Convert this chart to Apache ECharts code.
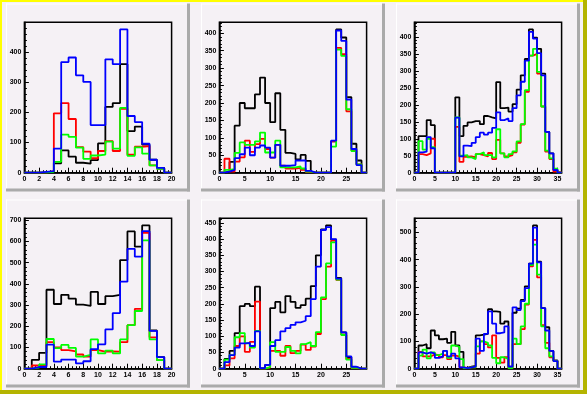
<!DOCTYPE html>
<html><head><meta charset="utf-8">
<script src="https://cdn.jsdelivr.net/npm/echarts@6/dist/echarts.min.js"></script>
<style>html,body{margin:0;padding:0;background:#f5f1f5;}#c{width:587px;height:394px;}</style>
</head><body><div id="c"></div>
<script>
// ---- data (bin contents, bins of width 1 starting at 0) ----
const p1Black = [0,0,0,3,31,74,53,33,30,42,97,218,231,360,138,153,93,43,16,0];
const p1Red   = [0,0,0,5,197,231,178,85,70,48,72,105,72,212,60,86,88,24,13,0];
const p1Green = [0,0,0,3,36,126,119,83,46,57,60,103,80,215,56,84,63,24,13,0];
const p1Blue  = [0,0,3,5,80,367,382,323,301,158,158,376,360,475,188,168,96,43,16,0];

const p2Black = [0,3,31,135,200,185,185,225,273,200,145,228,123,57,54,38,51,34,0,0,0,0,90,411,388,217,83,35,0];
const p2Red   = [0,40,3,32,44,92,60,82,97,68,43,80,20,12,12,14,8,2,0,0,0,0,90,358,340,176,64,24,0];
const p2Green = [0,8,10,57,87,80,80,90,115,58,58,92,15,15,15,18,12,3,0,0,0,0,75,353,335,182,62,24,0];
const p2Blue  = [0,3,8,42,53,72,50,72,78,72,43,80,20,20,22,35,35,5,0,0,0,0,92,408,378,210,68,22,0];

const p3Black = [0,108,108,155,140,0,0,0,0,0,222,108,138,148,152,152,143,167,163,160,267,190,192,180,202,245,287,335,422,398,365,292,120,57,8,0];
const p3Red   = [0,55,52,57,100,0,0,0,0,0,135,32,47,48,45,55,52,48,58,40,97,57,48,52,60,88,142,238,345,350,292,195,62,40,3,0];
const p3Green = [0,93,68,100,75,0,0,0,0,0,163,50,52,45,40,55,60,52,52,45,128,57,45,55,63,92,143,243,345,365,297,195,65,42,12,0];
const p3Blue  = [0,60,62,105,72,0,0,0,0,0,162,48,80,78,88,105,118,112,118,132,178,155,160,152,190,228,268,330,415,395,352,287,120,57,8,0];

const p4Black = [0,42,75,372,305,348,330,302,296,362,305,342,348,512,647,575,675,180,55,0];
const p4Red   = [0,15,15,125,100,88,82,67,57,88,80,82,80,125,205,282,640,148,40,0];
const p4Green = [0,5,20,140,97,112,98,57,65,138,72,85,72,138,205,272,605,138,40,0];
const p4Blue  = [0,8,8,113,33,43,43,25,35,92,115,185,262,410,565,528,648,178,55,0];

const p5Black = [0,30,55,110,193,200,193,253,1,12,187,206,174,224,206,188,196,216,255,350,430,442,398,280,112,36,5,0,0];
const p5Red   = [0,10,32,70,100,52,83,207,0,3,55,55,40,70,48,55,74,58,68,107,215,315,395,274,105,30,2,0,0];
const p5Green = [0,28,42,97,110,78,65,117,0,5,82,52,52,67,55,47,76,82,70,113,220,325,390,275,104,28,3,0,0];
const p5Blue  = [0,20,42,65,78,80,70,115,2,12,70,88,115,125,135,143,148,162,215,315,428,437,400,278,112,38,6,0,0];

const p6Black = [0,85,90,75,140,122,108,110,95,135,85,62,3,8,10,122,125,128,218,210,208,165,173,5,205,220,252,302,385,525,392,222,152,65,30,0];
const p6Red   = [0,62,45,45,52,50,42,50,35,48,45,5,3,5,5,55,100,90,78,122,40,22,42,2,90,90,145,235,375,472,335,160,95,42,28,0];
const p6Green = [0,48,70,38,60,50,55,65,40,85,80,35,2,5,5,82,100,95,85,40,20,42,35,2,110,90,155,238,380,455,345,155,75,45,28,0];
const p6Blue  = [0,60,55,60,55,40,45,65,45,55,38,5,2,5,8,110,65,128,210,165,130,133,155,8,225,215,248,295,385,517,390,222,140,65,28,0];

// axis tick settings per panel
const xMajor = [2,5,5,2,5,5];
const xMinor = [0.5,1,1,0.5,1,1];
const yMajor = [100,50,50,100,50,100];

const panels = [
  [p1Black,p1Red,p1Green,p1Blue],
  [p2Black,p2Red,p2Green,p2Blue],
  [p3Black,p3Red,p3Green,p3Blue],
  [p4Black,p4Red,p4Green,p4Blue],
  [p5Black,p5Red,p5Green,p5Blue],
  [p6Black,p6Red,p6Green,p6Blue]
];
const colors = ['#000000','#ff0000','#00ff00','#0000ff'];

// ---- layout ----
const padX = [6,201,396], padY = [3.5,199.5], padW = 184, padH = 188;
const grids = [], xAxes = [], yAxes = [], series = [], graphics = [];

graphics.push({type:'rect', shape:{x:0,y:0,width:587,height:394}, style:{fill:'#f5f1f5'}, z:-100});
graphics.push({type:'rect', shape:{x:0,y:0,width:587,height:2}, style:{fill:'#ffff00'}, z:-99});
graphics.push({type:'rect', shape:{x:0,y:0,width:2,height:394}, style:{fill:'#ffff00'}, z:-99});
graphics.push({type:'rect', shape:{x:0,y:390,width:587,height:4}, style:{fill:'#b4b400'}, z:-98});
graphics.push({type:'rect', shape:{x:583,y:0,width:4,height:394}, style:{fill:'#b4b400'}, z:-98});

function fmt(iv){ return v => (Math.abs(v/iv - Math.round(v/iv)) < 1e-6 ? String(v) : ''); }

panels.forEach((set, i) => {
  const col = i % 3, row = Math.floor(i / 3);
  const px = padX[col], py = padY[row];
  graphics.push({type:'rect', shape:{x:px,y:py,width:padW,height:1}, style:{fill:'#ffffff'}, z:-90});
  graphics.push({type:'rect', shape:{x:px,y:py,width:1,height:padH}, style:{fill:'#ffffff'}, z:-90});
  graphics.push({type:'rect', shape:{x:px,y:py+padH-3,width:padW,height:3}, style:{fill:'#aaaaaa'}, z:-90});
  graphics.push({type:'rect', shape:{x:px+padW-3,y:py,width:3,height:padH}, style:{fill:'#aaaaaa'}, z:-90});

  grids.push({left:px+0.1*padW, top:py+0.1*padH, width:0.8*padW, height:0.8*padH,
    show:true, borderColor:'#000', borderWidth:1.5, backgroundColor:'transparent'});

  const nb = set[0].length;
  let mx = 0; set.forEach(a => a.forEach(v => { if (v > mx) mx = v; }));
  const yMax = mx * 1.05;

  const common = {type:'value', gridIndex:i, splitLine:{show:false}};
  xAxes.push(Object.assign({}, common, {position:'bottom', min:0, max:nb, interval:xMajor[i],
    axisLine:{show:true, onZero:false, lineStyle:{color:'#000', width:1.5}},
    axisTick:{show:true, inside:true, length:5, lineStyle:{color:'#000'}},
    axisLabel:{show:true, fontSize:7, fontWeight:'bold', color:'#000', margin:3,
      fontFamily:'Liberation Sans', formatter:fmt(xMajor[i])}}));
  xAxes.push(Object.assign({}, common, {position:'bottom', min:0, max:nb, interval:xMinor[i],
    axisLine:{show:false}, axisTick:{show:true, inside:true, length:2.5, lineStyle:{color:'#000'}},
    axisLabel:{show:false}}));
  yAxes.push(Object.assign({}, common, {position:'left', min:0, max:yMax, interval:yMajor[i],
    axisLine:{show:true, onZero:false, lineStyle:{color:'#000', width:1.5}},
    axisTick:{show:true, inside:true, length:4.5, lineStyle:{color:'#000'}},
    axisLabel:{show:true, fontSize:7, fontWeight:'bold', color:'#000', margin:3,
      fontFamily:'Liberation Sans', formatter:fmt(yMajor[i])}}));
  yAxes.push(Object.assign({}, common, {position:'left', min:0, max:yMax, interval:yMajor[i]/5,
    axisLine:{show:false}, axisTick:{show:true, inside:true, length:2.5, lineStyle:{color:'#000'}},
    axisLabel:{show:false}}));

  set.forEach((vals, s) => {
    const pts = [[0,0]];
    vals.forEach((v,k) => pts.push([k, v]));
    pts.push([nb, vals[nb-1]]);
    series.push({type:'line', xAxisIndex:2*i, yAxisIndex:2*i, step:'end', symbol:'none',
      data:pts, lineStyle:{color:colors[s], width:1.8}, silent:true, z:2+s, animation:false});
  });
});

const chart = echarts.init(document.getElementById('c'));
chart.setOption({backgroundColor:'#f5f1f5', animation:false, graphic:graphics,
  grid:grids, xAxis:xAxes, yAxis:yAxes, series:series});
</script></body></html>
